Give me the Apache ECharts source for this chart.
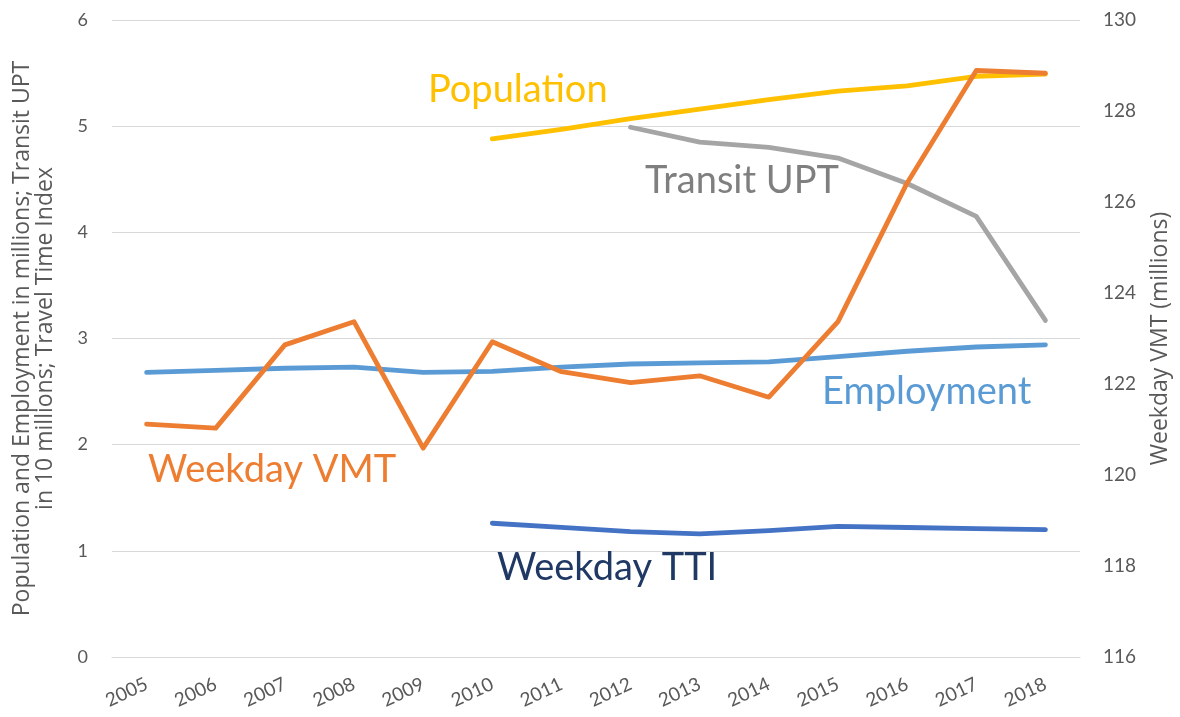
<!DOCTYPE html>
<html>
<head>
<meta charset="utf-8">
<script src="https://cdn.jsdelivr.net/npm/echarts@6/dist/echarts.min.js"></script>
<style>
html,body{margin:0;padding:0;background:#fff;}
#chart{width:1180px;height:717px;}
</style>
</head>
<body>
<div id="chart"></div>
<script>
const years = ['2005','2006','2007','2008','2009','2010','2011','2012','2013','2014','2015','2016','2017','2018'];
const population = [null,null,null,null,null,4.88,4.97,5.07,5.16,5.25,5.33,5.38,5.47,5.49];
const transitUPT = [null,null,null,null,null,null,null,4.99,4.85,4.80,4.70,4.46,4.15,3.17];
const employment = [2.68,2.70,2.72,2.73,2.68,2.69,2.73,2.76,2.77,2.78,2.83,2.88,2.92,2.94];
const weekdayTTI = [null,null,null,null,null,1.26,1.22,1.18,1.16,1.19,1.23,1.22,1.21,1.20];
const weekdayVMT = [121.12,121.03,122.86,123.37,120.59,122.93,122.27,122.03,122.18,121.71,123.37,126.42,128.89,128.83];

const FONT = 'Lato';
const NAMEFONT = 'Open Sans';
const chart = echarts.init(document.getElementById('chart'));

function line(name, data, color, yIdx, z){
  return {
    name, type:'line', data, yAxisIndex:yIdx, z,
    showSymbol:false, symbol:'none', connectNulls:false,
    lineStyle:{color, width:4.8, cap:'round', join:'round'},
    itemStyle:{color},
    emphasis:{disabled:true}
  };
}

function label(text, x, y, color){
  return {type:'text', x, y, style:{text, fill:color, font:'38px ' + FONT, textVerticalAlign:'middle', textAlign:'left'}, z:100};
}

chart.setOption({
  animation:false,
  textStyle:{fontFamily:FONT},
  grid:{left:112, right:98, top:20, bottom:60},
  xAxis:{
    type:'category', data:years, boundaryGap:true,
    axisLine:{show:true, lineStyle:{color:'#D9D9D9', width:1}},
    axisTick:{show:false},
    axisLabel:{rotate:25, color:'#595959', fontSize:19, fontFamily:FONT, margin:26, interval:0}
  },
  yAxis:[
    {
      type:'value', min:0, max:6, interval:1, position:'left',
      name:'Population and Employment in millions; Transit UPT\nin 10 millions; Travel Time Index',
      nameLocation:'middle', nameGap:55, nameRotate:90,
      nameTextStyle:{color:'#595959', fontSize:23, fontFamily:NAMEFONT, lineHeight:23},
      axisLine:{show:false}, axisTick:{show:false},
      axisLabel:{color:'#595959', fontSize:18, fontFamily:FONT, margin:24},
      splitLine:{show:true, lineStyle:{color:'#D9D9D9', width:1}}
    },
    {
      type:'value', min:116, max:130, interval:2, position:'right',
      name:'Weekday VMT (millions)',
      nameLocation:'middle', nameGap:69, nameRotate:90,
      nameTextStyle:{color:'#595959', fontSize:23, fontFamily:NAMEFONT},
      axisLine:{show:false}, axisTick:{show:false},
      axisLabel:{color:'#595959', fontSize:19, fontFamily:FONT, margin:23},
      splitLine:{show:false}
    }
  ],
  series:[
    line('Employment', employment, '#5B9BD5', 0, 2),
    line('Weekday TTI', weekdayTTI, '#4472C4', 0, 2),
    line('Population', population, '#FFC000', 0, 3),
    line('Transit UPT', transitUPT, '#A5A5A5', 0, 3),
    line('Weekday VMT', weekdayVMT, '#ED7D31', 1, 4)
  ],
  graphic:[
    label('Population', 428, 90, '#FFC000'),
    label('Transit UPT', 645, 181, '#7F7F7F'),
    label('Employment', 822, 392, '#5B9BD5'),
    label('Weekday VMT', 148, 470, '#ED7D31'),
    label('Weekday TTI', 497, 568, '#1F3864')
  ]
});
</script>
</body>
</html>
